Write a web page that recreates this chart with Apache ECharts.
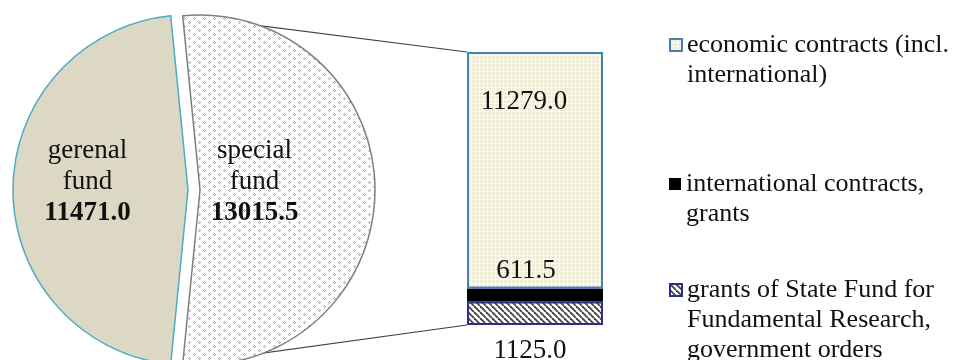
<!DOCTYPE html>
<html>
<head>
<meta charset="utf-8">
<script src="https://cdn.jsdelivr.net/npm/echarts@6/dist/echarts.min.js"></script>
<style>
  html, body { margin: 0; padding: 0; background: #fff; }
  #chart { width: 961px; height: 360px; }
</style>
</head>
<body>
<div id="chart"></div>
<script>
// Funding: general vs special fund, with the special fund split into its sources
const fundNames = ['special fund', 'gerenal fund'];
const fundValues = [13015.5, 11471.0];

const partNames = [
  'economic contracts (incl. international)',
  'international contracts, grants',
  'grants of State Fund for Fundamental Research, government orders'
];
const partValues = [11279.0, 611.5, 1125.0];
const partLegendText = [
  'economic contracts (incl.\ninternational)',
  'international contracts,\ngrants',
  'grants of State Fund for\nFundamental Research,\ngovernment orders'
];

const FONT = '"Liberation Serif", "Times New Roman", serif';
const TEXT = '#111';

// ---- fill patterns ----
function tile(w, h, draw) {
  const c = document.createElement('canvas');
  c.width = w; c.height = h;
  const g = c.getContext('2d');
  draw(g, w, h);
  return { image: c, repeat: 'repeat' };
}
// small grey chevrons on white
const dotFill = tile(10, 8, (g) => {
  g.fillStyle = '#fff'; g.fillRect(0, 0, 10, 8);
  g.fillStyle = '#a6a6a6';
  const chev = (x, y) => {
    g.fillRect(x + 1, y, 1, 1);
    g.fillRect(x, y + 1, 1, 1);
    g.fillRect(x + 1, y + 2, 1, 1);
    g.fillRect(x + 2, y + 1, 1, 1);
  };
  chev(1, 1); chev(6, 5);
});
// fine cream grid
const gridFill = tile(4, 4, (g) => {
  g.fillStyle = '#efecd8'; g.fillRect(0, 0, 4, 4);
  g.fillStyle = '#fbfaf4';
  g.fillRect(3, 0, 1, 4); g.fillRect(0, 3, 4, 1);
});
// backslash hatching
const hatchFill = tile(6, 6, (g) => {
  g.fillStyle = '#fff'; g.fillRect(0, 0, 6, 6);
  g.strokeStyle = '#444'; g.lineWidth = 1.8;
  for (const k of [-6, 0, 6]) {
    g.beginPath(); g.moveTo(k, 0); g.lineTo(k + 6, 6); g.stroke();
  }
});

// ---- layout ----
const pieCenter = [188, 190];
const pieRadius = 175;
const explode = 12;
const barBox = { left: 467, top: 52, width: 136, height: 273 };
const legendLeft = 669;
const legendFirstLineY = [45, 184, 290];
const lineH = 30;

const fundTotal = fundValues.reduce((a, b) => a + b, 0);
const partTotal = partValues.reduce((a, b) => a + b, 0);
const halfAngle = Math.PI * fundValues[0] / fundTotal;

// connector lines from the special slice edges to the bar corners
const sx = pieCenter[0] + explode + pieRadius * Math.cos(halfAngle);
const dyEdge = pieRadius * Math.sin(halfAngle);
const connectors = [
  [sx, pieCenter[1] - dyEdge, barBox.left, barBox.top],
  [sx, pieCenter[1] + dyEdge, barBox.left, barBox.top + barBox.height]
].map(([x1, y1, x2, y2]) => ({
  type: 'line', z: 0,
  shape: { x1, y1, x2, y2 },
  style: { stroke: '#404040', lineWidth: 1.2 }
}));

const partStyles = [
  { color: gridFill, borderColor: '#4a7ebb', borderWidth: 2 },
  { color: '#000', borderColor: '#000', borderWidth: 0 },
  { color: hatchFill, borderColor: '#2b2f86', borderWidth: 2 }
];
const partLabels = [
  { position: 'insideTop', distance: 35, offset: [-11, 0] },
  { position: 'top', distance: 3, offset: [-9, 0] },
  { position: 'bottom', distance: 11, offset: [-5, 0] }
];

// stacked bottom-up: hatched, black, grid
const stackOrder = [2, 1, 0];
const barSeries = stackOrder.map((i) => ({
  type: 'bar',
  name: partNames[i],
  stack: 'special',
  barWidth: '100%',
  data: [partValues[i]],
  itemStyle: partStyles[i],
  label: Object.assign({
    show: true,
    formatter: (p) => p.value.toFixed(1),
    fontFamily: FONT, fontSize: 27, lineHeight: 30, color: TEXT
  }, partLabels[i]),
  emphasis: { disabled: true }
}));

const legends = partNames.map((name, i) => {
  const lines = partLegendText[i].split('\n').length;
  const blank = '\n'.repeat(lines - 1);
  return {
    data: [name],
    left: legendLeft,
    top: legendFirstLineY[i] - (2 * lines - 1) * lineH / 2,
    padding: 0,
    orient: 'vertical',
    icon: 'rect',
    itemWidth: 12,
    itemHeight: 12,
    selectedMode: false,
    formatter: () => blank + partLegendText[i],
    textStyle: { fontFamily: FONT, fontSize: 26, lineHeight: lineH, color: TEXT }
  };
});

const labelShift = [[-36, -8], [-10, -8]];

const fundStyles = [
  { color: dotFill, borderColor: '#7f7f7f', borderWidth: 1.5 },
  { color: '#ddd8c4', borderColor: '#4bacc6', borderWidth: 1.5 }
];

const option = {
  animation: false,
  backgroundColor: '#fff',
  legend: legends,
  grid: Object.assign({ containLabel: false }, barBox),
  xAxis: { type: 'category', data: ['special fund'], show: false },
  yAxis: { type: 'value', min: 0, max: partTotal, show: false },
  graphic: connectors,
  series: [
    {
      type: 'pie',
      center: pieCenter,
      radius: pieRadius,
      startAngle: 180 * fundValues[0] / fundTotal,
      clockwise: true,
      selectedMode: 'single',
      selectedOffset: explode,
      avoidLabelOverlap: false,
      labelLine: { show: false },
      label: {
        show: true,
        position: 'inside',
        fontFamily: FONT, fontSize: 27, lineHeight: 31, color: TEXT,
        formatter: (p) => p.name.replace(' ', '\n') + '\n{b|' + p.value.toFixed(1) + '}',
        rich: { b: { fontFamily: FONT, fontSize: 27, lineHeight: 31, fontWeight: 'bold', color: TEXT } }
      },
      labelLayout: (p) => ({ dx: labelShift[p.dataIndex][0], dy: labelShift[p.dataIndex][1] }),
      emphasis: { disabled: true },
      data: fundNames.map((name, i) => ({
        name,
        value: fundValues[i],
        selected: i === 0,
        itemStyle: fundStyles[i],
        select: { itemStyle: fundStyles[i] }
      }))
    }
  ].concat(barSeries)
};

const chart = echarts.init(document.getElementById('chart'), null, { renderer: 'canvas' });
chart.setOption(option);
</script>
</body>
</html>
